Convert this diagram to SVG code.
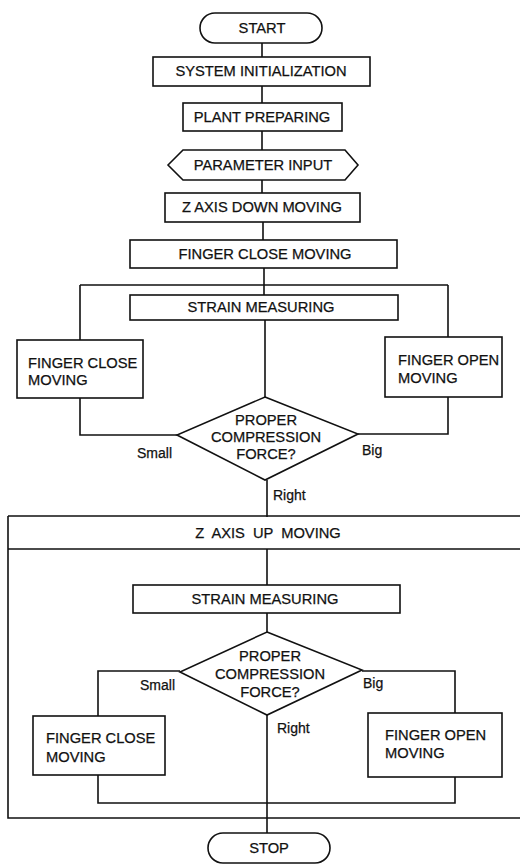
<svg xmlns="http://www.w3.org/2000/svg" width="520" height="864" viewBox="0 0 520 864">
<style>
.s{fill:#fff;stroke:#111;stroke-width:1.6}
.c{fill:none;stroke:#111;stroke-width:1.6}
text{font-family:"Liberation Sans",Arial,sans-serif;font-size:14.7px;fill:#111;stroke:#111;stroke-width:0.25}
.l{font-size:14px}
.m{text-anchor:middle}
</style>
<rect width="520" height="864" fill="#fff"/>
<g id="connectors">
<path class="c" d="M262,43V57M262,86V103M262,131V150M262,180V193M263,222V240M264,268V295"/>
<path class="c" d="M80,285H448M80,285V340M80,398V435H177M358,434H448V397M448,337V285M265,320V397"/>
<path class="c" d="M267,480V517"/>
<path class="c" d="M8,516H520M8,549H520M8,516V818H520"/>
<path class="c" d="M267,549V585M267,613V632"/>
<path class="c" d="M180,671H98V716M98,775V803H455V777M455,713V671H362M267,715V833"/>
</g>
<g id="start"><rect class="s" x="200" y="13" width="122" height="30" rx="15"/><text class="m" x="262" y="33">START</text></g>
<g id="sysinit"><rect class="s" x="153" y="57" width="217" height="29"/><text class="m" x="261" y="76">SYSTEM INITIALIZATION</text></g>
<g id="plant"><rect class="s" x="183" y="103" width="159" height="28"/><text class="m" x="262" y="122">PLANT PREPARING</text></g>
<g id="param"><polygon class="s" points="168,165 183,150 345,150 358,165 345,180 183,180"/><text class="m" x="263" y="170">PARAMETER INPUT</text></g>
<g id="zdown"><rect class="s" x="165" y="193" width="195" height="29"/><text class="m" x="262" y="212">Z AXIS DOWN MOVING</text></g>
<g id="fclose1"><rect class="s" x="130" y="240" width="267" height="28"/><text class="m" x="265" y="259">FINGER CLOSE MOVING</text></g>
<g id="strain1"><rect class="s" x="130" y="295" width="268" height="25"/><text class="m" x="261" y="312">STRAIN MEASURING</text></g>
<g id="fcloseL1"><rect class="s" x="17" y="340" width="126" height="58"/><text x="28" y="368">FINGER CLOSE</text><text x="28" y="385">MOVING</text></g>
<g id="fopenR1"><rect class="s" x="385" y="337" width="117" height="60"/><text x="398" y="365">FINGER OPEN</text><text x="398" y="383">MOVING</text></g>
<g id="decision1"><polygon class="s" points="265,397 358,434 265,480 177,435"/><text class="m" x="266" y="425">PROPER</text><text class="m" x="266" y="442">COMPRESSION</text><text class="m" x="266" y="459">FORCE?</text></g>
<g id="labels1"><text class="l" x="137" y="458">Small</text><text class="l" x="362" y="455">Big</text><text class="l" x="273" y="500">Right</text></g>
<g id="zup"><text class="m" x="268" y="538" style="word-spacing:4px">Z AXIS UP MOVING</text></g>
<g id="strain2"><rect class="s" x="133" y="585" width="267" height="28"/><text class="m" x="265" y="604">STRAIN MEASURING</text></g>
<g id="decision2"><polygon class="s" points="267,632 362,670 267,715 180,672"/><text class="m" x="270" y="661">PROPER</text><text class="m" x="270" y="679">COMPRESSION</text><text class="m" x="270" y="697">FORCE?</text></g>
<g id="fcloseL2"><rect class="s" x="33" y="716" width="132" height="59"/><text x="46" y="743">FINGER CLOSE</text><text x="46" y="762">MOVING</text></g>
<g id="fopenR2"><rect class="s" x="368" y="713" width="134" height="64"/><text x="385" y="740">FINGER OPEN</text><text x="385" y="758">MOVING</text></g>
<g id="labels2"><text class="l" x="140" y="690">Small</text><text class="l" x="363" y="688">Big</text><text class="l" x="277" y="733">Right</text></g>
<g id="stop"><rect class="s" x="208" y="833" width="122" height="30" rx="15"/><text class="m" x="269" y="853">STOP</text></g>
</svg>
